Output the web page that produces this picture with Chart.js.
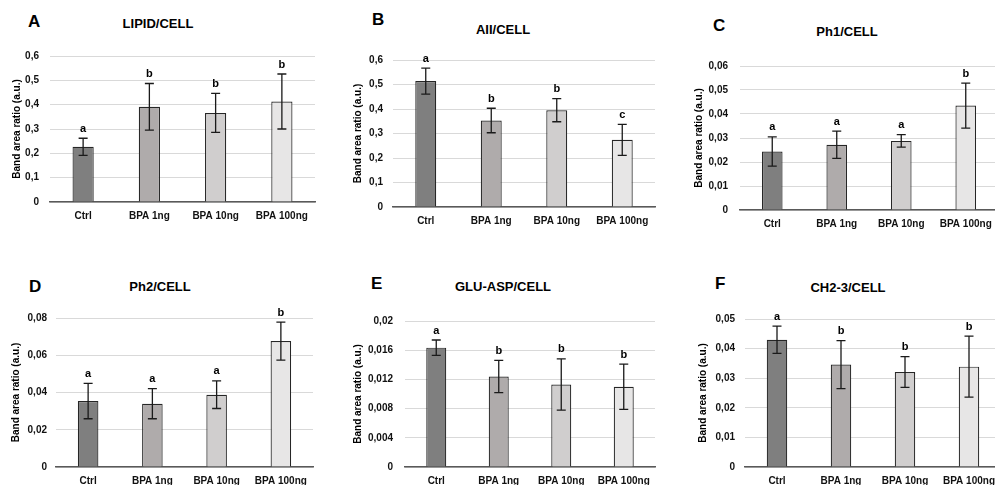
<!DOCTYPE html>
<html>
<head>
<meta charset="utf-8">
<script src="https://cdn.jsdelivr.net/npm/chart.js@4.4.1/dist/chart.umd.min.js"></script>
<style>
  html, body { margin: 0; padding: 0; background: #fff; width: 995px; height: 485px; overflow: hidden; }
  body { position: relative; font-family: "Liberation Sans", Arial, sans-serif; }
  canvas { position: absolute; }
  .tag, .ttl { position: absolute; font-weight: bold; line-height: 1; white-space: nowrap; color: #000; }
  .tag { font-size: 17px; }
  .ttl { font-size: 13px; transform: translateX(-50%); }
</style>
</head>
<body>
<script>
const categories = ['Ctrl', 'BPA 1ng', 'BPA 10ng', 'BPA 100ng'];
const barColors = ['#7f7f7f', '#afabab', '#d0cece', '#e7e6e6'];

// LIPID/CELL
const lipidMean = [0.227, 0.391, 0.366, 0.413];
const lipidSd = [0.035, 0.096, 0.080, 0.113];
const lipidGroups = ['a', 'b', 'b', 'b'];

// AII/CELL
const aiiMean = [0.514, 0.353, 0.395, 0.274];
const aiiSd = [0.053, 0.050, 0.047, 0.063];
const aiiGroups = ['a', 'b', 'b', 'c'];

// Ph1/CELL
const ph1Mean = [0.0244, 0.0272, 0.0288, 0.0435];
const ph1Sd = [0.0061, 0.0057, 0.0026, 0.0094];
const ph1Groups = ['a', 'a', 'a', 'b'];

// Ph2/CELL
const ph2Mean = [0.0354, 0.0340, 0.0388, 0.0676];
const ph2Sd = [0.0095, 0.0081, 0.0074, 0.0102];
const ph2Groups = ['a', 'a', 'a', 'b'];

// GLU-ASP/CELL
const gluMean = [0.01635, 0.0124, 0.0113, 0.0110];
const gluSd = [0.00105, 0.0022, 0.0035, 0.0031];
const gluGroups = ['a', 'b', 'b', 'b'];

// CH2-3/CELL
const chMean = [0.0430, 0.0346, 0.0321, 0.0339];
const chSd = [0.0046, 0.0081, 0.0052, 0.0103];
const chGroups = ['a', 'b', 'b', 'b'];

Chart.defaults.font.family = '"Liberation Sans", Arial, sans-serif';

// 0.004 -> "0,004"
const fmt = v => v === 0 ? '0' : String(+v.toFixed(6)).replace('.', ',');

// error bars (mean ± sd) plus the significance letter on top
const errorBars = {
  id: 'errorBars',
  afterDatasetsDraw(chart) {
    const { ctx, scales: { y } } = chart;
    const ds = chart.data.datasets[0];
    const meta = chart.getDatasetMeta(0);
    ctx.save();
    ctx.strokeStyle = '#1a1a1a';
    ctx.lineWidth = 1.3;
    ctx.fillStyle = '#000';
    ctx.font = 'bold 11px "Liberation Sans", Arial, sans-serif';
    ctx.textAlign = 'center';
    ctx.textBaseline = 'bottom';
    meta.data.forEach((bar, i) => {
      const m = ds.data[i], s = ds.sd[i];
      const top = y.getPixelForValue(m + s);
      const bot = y.getPixelForValue(m - s);
      const cx = bar.x;
      ctx.beginPath();
      ctx.moveTo(cx, top); ctx.lineTo(cx, bot);
      ctx.moveTo(cx - 4.5, top); ctx.lineTo(cx + 4.5, top);
      ctx.moveTo(cx - 4.5, bot); ctx.lineTo(cx + 4.5, bot);
      ctx.stroke();
      ctx.fillText(ds.groups[i], cx, top - 4);
    });
    ctx.restore();
  }
};

function addText(cls, text, left, top) {
  const d = document.createElement('div');
  d.className = cls;
  d.textContent = text;
  d.style.left = left + 'px';
  d.style.top = top + 'px';
  document.body.appendChild(d);
}

function panel(p) {
  const cTop = p.top - 10;
  const w = p.right - p.left + 5;
  const h = p.bottom - cTop + 28;
  const cv = document.createElement('canvas');
  cv.width = w; cv.height = h;
  cv.style.left = p.left + 'px';
  cv.style.top = cTop + 'px';
  cv.style.width = w + 'px';
  cv.style.height = h + 'px';
  document.body.appendChild(cv);

  addText('tag', p.tag, p.tagX, p.tagY);
  addText('ttl', p.title, p.titleX, p.titleY);

  new Chart(cv, {
    type: 'bar',
    data: {
      labels: categories,
      datasets: [{
        data: p.mean,
        sd: p.sd,
        groups: p.groups,
        backgroundColor: barColors,
        borderColor: '#262626',
        borderWidth: 1.2,
        barPercentage: 0.32,
        categoryPercentage: 1
      }]
    },
    options: {
      responsive: false,
      animation: false,
      devicePixelRatio: 1,
      layout: { padding: { top: 10, right: 5, left: 0, bottom: 0 } },
      plugins: { legend: { display: false }, tooltip: { enabled: false } },
      scales: {
        x: {
          grid: { display: false, drawTicks: false },
          border: { color: '#595959', width: 1.5 },
          ticks: { color: '#111', font: { size: 10, weight: 'bold' }, padding: 8, maxRotation: 0, autoSkip: false },
          afterFit: s => { s.height = 28; }
        },
        y: {
          min: 0,
          max: p.max,
          ticks: { stepSize: p.step, callback: fmt, color: '#111', font: { size: 10, weight: 'bold' }, padding: p.tickPad },
          grid: { color: '#d9d9d9', lineWidth: 1, drawTicks: false },
          border: { display: false },
          title: { display: true, text: 'Band area ratio (a.u.)', color: '#000', font: { size: 10, weight: 'bold' }, padding: 0 },
          afterFit: s => { s.width = p.yW; }
        }
      }
    },
    plugins: [errorBars]
  });
}

panel({ tag: 'A', title: 'LIPID/CELL', mean: lipidMean, sd: lipidSd, groups: lipidGroups, max: 0.6, step: 0.1,
  left: 11, yW: 39, tickPad: 11, top: 49, bottom: 202, right: 315, tagX: 28, tagY: 12.5, titleX: 158, titleY: 16.5 });
panel({ tag: 'B', title: 'AII/CELL', mean: aiiMean, sd: aiiSd, groups: aiiGroups, max: 0.6, step: 0.1,
  left: 352, yW: 41, tickPad: 10, top: 54, bottom: 207, right: 655, tagX: 372, tagY: 11, titleX: 503, titleY: 22.5 });
panel({ tag: 'C', title: 'Ph1/CELL', mean: ph1Mean, sd: ph1Sd, groups: ph1Groups, max: 0.06, step: 0.01,
  left: 693, yW: 47, tickPad: 12, top: 58, bottom: 210, right: 998, tagX: 713, tagY: 16.5, titleX: 847, titleY: 25 });
panel({ tag: 'D', title: 'Ph2/CELL', mean: ph2Mean, sd: ph2Sd, groups: ph2Groups, max: 0.08, step: 0.02,
  left: 10, yW: 46, tickPad: 9, top: 313, bottom: 467, right: 313, tagX: 29, tagY: 277.5, titleX: 160, titleY: 280 });
panel({ tag: 'E', title: 'GLU-ASP/CELL', mean: gluMean, sd: gluSd, groups: gluGroups, max: 0.02, step: 0.004,
  left: 352, yW: 53, tickPad: 12, top: 313, bottom: 467, right: 655, tagX: 371, tagY: 274.5, titleX: 503, titleY: 280 });
panel({ tag: 'F', title: 'CH2-3/CELL', mean: chMean, sd: chSd, groups: chGroups, max: 0.05, step: 0.01,
  left: 697, yW: 48, tickPad: 10, top: 313, bottom: 467, right: 1001, tagX: 715, tagY: 274.5, titleX: 848, titleY: 280.5 });
</script>
</body>
</html>
